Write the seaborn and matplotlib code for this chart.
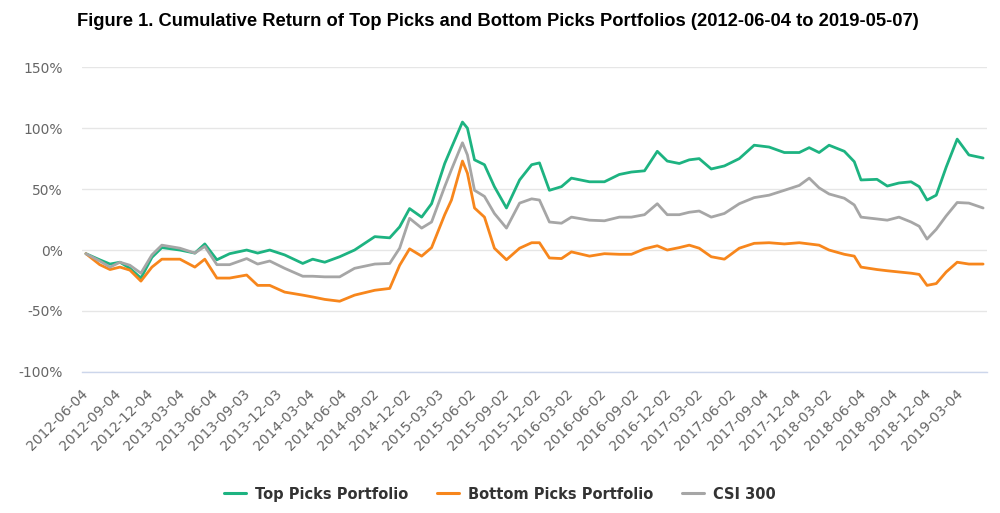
import pandas as pd
import numpy as np
import matplotlib.pyplot as plt
from matplotlib.lines import Line2D
import seaborn as sns

# Weekly-ish sample dates
dates = ['2012-06-04', '2012-07-13', '2012-08-11', '2012-09-08', '2012-10-06', '2012-11-06',
         '2012-12-07', '2013-01-04', '2013-02-24', '2013-04-07', '2013-05-05', '2013-06-08',
         '2013-07-14', '2013-08-31', '2013-10-01', '2013-11-04', '2013-12-16', '2014-02-05',
         '2014-03-05', '2014-04-08', '2014-05-20', '2014-07-01', '2014-08-27', '2014-10-08',
         '2014-11-05', '2014-12-03', '2015-01-06', '2015-02-03', '2015-03-12', '2015-03-31',
         '2015-05-01', '2015-05-15', '2015-06-04', '2015-07-02', '2015-07-30', '2015-09-02',
         '2015-10-09', '2015-11-12', '2015-12-04', '2016-01-01', '2016-02-04', '2016-03-03',
         '2016-04-23', '2016-06-04', '2016-07-16', '2016-08-19', '2016-09-25', '2016-10-31',
         '2016-11-28', '2017-01-01', '2017-01-29', '2017-02-26', '2017-04-01', '2017-05-08',
         '2017-06-19', '2017-07-31', '2017-09-11', '2017-10-24', '2017-12-05', '2018-01-02',
         '2018-01-30', '2018-02-27', '2018-04-11', '2018-05-09', '2018-05-28', '2018-07-12',
         '2018-08-10', '2018-09-12', '2018-10-16', '2018-11-08', '2018-11-30', '2018-12-26',
         '2019-01-23', '2019-02-23', '2019-03-28', '2019-05-07']

top_picks = [-3, -8, -11.5, -10, -15, -23, -6, 2, 0, -2.5, 5, -8,
             -3, 0, -2.5, 0, -4, -11, -7.5, -10, -5.5, 0, 11, 10,
             19, 34, 27, 38, 71, 84, 105, 100, 74, 70, 52, 34.5,
             57.5, 70, 71.5, 49, 52, 59, 56, 56, 62, 64, 65, 81,
             73, 71, 74, 75, 66.5, 69, 75, 86, 84.5, 80, 80, 84,
             80, 86, 81, 72.5, 57.5, 58, 52.5, 55, 56, 52, 41, 45,
             68, 91, 78, 75.5]

bottom_picks = [-3, -12, -16, -14, -16.5, -25.5, -14, -7.5, -7.5, -14, -7.5, -23,
                -23, -20.5, -29, -29, -34.5, -37, -38.5, -40.5, -42, -37, -33, -31.5,
                -12.5, 1, -5, 2, 29, 41, 73, 63, 34.5, 27, 1.5, -8,
                1.5, 6, 6, -6.5, -7, -1.5, -5, -3, -3.5, -3.5, 1, 3.5,
                0, 2, 4, 1.5, -5.5, -7.5, 1.5, 5.5, 6, 5, 6, 5,
                4, 0, -3.5, -5, -14, -16, -17, -18, -19, -20, -29, -27.5,
                -18, -10, -11.5, -11.5]

csi300 = [-3, -9, -14, -10, -12.5, -19, -4, 4, 1.5, -2.5, 3, -12,
          -12, -7, -11.5, -9, -15, -21.5, -21.5, -22, -22, -15, -11.5, -11,
          1.5, 26, 18, 23, 52, 66, 88, 78, 49, 44, 30, 18,
          38.5, 42, 41, 23, 22, 27, 24.5, 24, 27, 27, 29, 38,
          29, 29, 31, 32, 27, 30, 38, 43, 45, 49, 53, 59,
          51, 46, 42.5, 37, 27, 25.5, 24.5, 27, 23, 19.5, 9, 17,
          28, 39, 38.5, 34.5]

tick_dates = ['2012-06-04', '2012-09-04', '2012-12-04', '2013-03-04', '2013-06-04', '2013-09-03',
              '2013-12-03', '2014-03-04', '2014-06-04', '2014-09-02', '2014-12-02', '2015-03-03',
              '2015-06-02', '2015-09-02', '2015-12-02', '2016-03-02', '2016-06-02', '2016-09-02',
              '2016-12-02', '2017-03-02', '2017-06-02', '2017-09-04', '2017-12-04', '2018-03-02',
              '2018-06-04', '2018-09-04', '2018-12-04', '2019-03-04']

series_names = ['Top Picks Portfolio', 'Bottom Picks Portfolio', 'CSI 300']
colors = ['#1db381', '#f7861c', '#a6a6a6']
title = 'Figure 1. Cumulative Return of Top Picks and Bottom Picks Portfolios (2012-06-04 to 2019-05-07)'

sns.set_style('white')
plt.rcParams['font.family'] = ['DejaVu Sans']

df = pd.DataFrame({'date': pd.to_datetime(dates),
                   series_names[0]: top_picks,
                   series_names[1]: bottom_picks,
                   series_names[2]: csi300})
df = df.melt(id_vars='date', var_name='series', value_name='ret')

fig = plt.figure(figsize=(10, 5.13), dpi=100)
ax = fig.add_axes([0.082, 0.275, 0.905, 0.594])
sns.lineplot(data=df, x='date', y='ret', hue='series', hue_order=series_names,
             palette=colors, linewidth=2.0, ax=ax, legend=False)

# axes look
pad = pd.Timedelta(days=11)
ax.set_xlim(pd.Timestamp(dates[0]) - pad, pd.Timestamp(dates[-1]) + pad)
ax.set_ylim(-100, 150)
ax.set_yticks(np.arange(-100, 151, 50))
ax.set_yticklabels([f'{v}%' for v in range(-100, 151, 50)])
ax.yaxis.grid(True, color='#e6e6e6', linewidth=1)
ax.set_axisbelow(True)
for s in ['top', 'right', 'left']:
    ax.spines[s].set_visible(False)
ax.spines['bottom'].set_color('#ccd6eb')
ax.spines['bottom'].set_linewidth(1)

ax.set_xticks(pd.to_datetime(tick_dates))
ax.set_xticklabels(tick_dates, rotation=45, ha='right', va='center', rotation_mode='anchor')
ax.tick_params(axis='x', direction='out', length=10, width=1, color='#ccd6eb',
               labelcolor='#666666', labelsize=10, pad=4)
ax.tick_params(axis='y', length=0, labelcolor='#666666', labelsize=10, pad=14)
ax.set(xlabel='', ylabel='')

fig.text(0.498, 1 - 22 / 513, title, ha='center', va='center', fontsize=13.2,
         fontweight='bold', family='Liberation Sans', color='black')

handles = [Line2D([0], [0], color=c, lw=2.2) for c in colors]
fig.legend(handles, series_names, loc='center', bbox_to_anchor=(0.5, 0.037), ncol=3,
           frameon=False, handlelength=1.5, handletextpad=0.6, columnspacing=2.0,
           prop={'weight': 'bold', 'size': 10.5}, labelcolor='#333333')

fig.savefig('out.png', dpi=100)
